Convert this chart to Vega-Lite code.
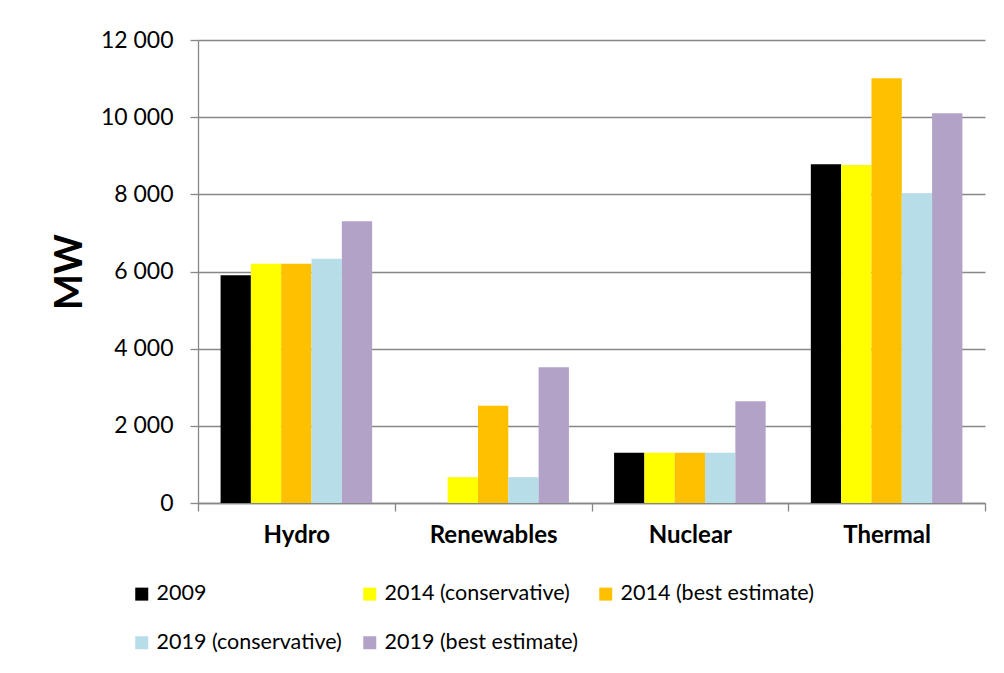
{
  "$schema": "https://vega.github.io/schema/vega-lite/v6.json",
  "width": 787,
  "height": 463,
  "autosize": {"type": "none"},
  "padding": {"left": 198, "top": 40, "right": 19, "bottom": 170},
  "background": "white",
  "config": {"font": "Lato", "view": {"stroke": null}},
  "data": {
    "values": [
      {"category": "Hydro", "series": "2009", "value": 5900},
      {"category": "Hydro", "series": "2014 (conservative)", "value": 6200},
      {"category": "Hydro", "series": "2014 (best estimate)", "value": 6200},
      {"category": "Hydro", "series": "2019 (conservative)", "value": 6330},
      {"category": "Hydro", "series": "2019 (best estimate)", "value": 7300},
      {"category": "Renewables", "series": "2009", "value": 0},
      {"category": "Renewables", "series": "2014 (conservative)", "value": 670},
      {"category": "Renewables", "series": "2014 (best estimate)", "value": 2520},
      {"category": "Renewables", "series": "2019 (conservative)", "value": 670},
      {"category": "Renewables", "series": "2019 (best estimate)", "value": 3520},
      {"category": "Nuclear", "series": "2009", "value": 1300},
      {"category": "Nuclear", "series": "2014 (conservative)", "value": 1300},
      {"category": "Nuclear", "series": "2014 (best estimate)", "value": 1300},
      {"category": "Nuclear", "series": "2019 (conservative)", "value": 1300},
      {"category": "Nuclear", "series": "2019 (best estimate)", "value": 2640},
      {"category": "Thermal", "series": "2009", "value": 8780},
      {"category": "Thermal", "series": "2014 (conservative)", "value": 8760},
      {"category": "Thermal", "series": "2014 (best estimate)", "value": 11010},
      {"category": "Thermal", "series": "2019 (conservative)", "value": 8030},
      {"category": "Thermal", "series": "2019 (best estimate)", "value": 10100}
    ]
  },
  "mark": {"type": "bar"},
  "encoding": {
    "x": {
      "field": "category",
      "type": "nominal",
      "sort": ["Hydro", "Renewables", "Nuclear", "Thermal"],
      "scale": {"paddingInner": 0, "paddingOuter": 0},
      "axis": {
        "title": null,
        "labelAngle": 0,
        "labelFontWeight": "bold",
        "labelFontSize": 24,
        "labelColor": "black",
        "labelPadding": 12,
        "labelLimit": 0,
        "tickBand": "extent",
        "tickSize": 8,
        "tickColor": "#878787",
        "tickWidth": 1.3,
        "domainColor": "#878787",
        "domainWidth": 1.3
      }
    },
    "xOffset": {
      "field": "series",
      "type": "nominal",
      "sort": ["2009", "2014 (conservative)", "2014 (best estimate)", "2019 (conservative)", "2019 (best estimate)"],
      "scale": {"paddingInner": 0, "paddingOuter": 0.745}
    },
    "y": {
      "field": "value",
      "type": "quantitative",
      "scale": {"domain": [0, 12000], "nice": false},
      "axis": {
        "title": "MW",
        "titleFontSize": 38,
        "titleFontWeight": "bold",
        "titleColor": "black",
        "titleAngle": 270,
        "titleAlign": "center",
        "titleBaseline": "alphabetic",
        "titleX": -117,
        "values": [0, 2000, 4000, 6000, 8000, 10000, 12000],
        "labelExpr": "replace(format(datum.value, ','), ',', ' ')",
        "labelFontSize": 23,
        "labelColor": "black",
        "labelPadding": 17,
        "tickSize": 8,
        "tickColor": "#878787",
        "tickWidth": 1.3,
        "domainColor": "#878787",
        "domainWidth": 1.3,
        "grid": true,
        "gridColor": "#878787",
        "gridWidth": 1.3
      }
    },
    "color": {
      "field": "series",
      "type": "nominal",
      "scale": {
        "domain": ["2009", "2014 (conservative)", "2014 (best estimate)", "2019 (conservative)", "2019 (best estimate)"],
        "range": ["#000000", "#FFFF00", "#FFC000", "#B7DEE8", "#B3A2C7"]
      },
      "legend": {
        "title": null,
        "orient": "none",
        "legendX": -67,
        "legendY": 543,
        "direction": "horizontal",
        "columns": 3,
        "symbolType": "square",
        "symbolSize": 169,
        "symbolStrokeWidth": 0,
        "labelFontSize": 21.5,
        "labelLimit": 0,
        "labelColor": "black",
        "labelOffset": 4,
        "rowPadding": 26,
        "columnPadding": 17
      }
    }
  }
}
